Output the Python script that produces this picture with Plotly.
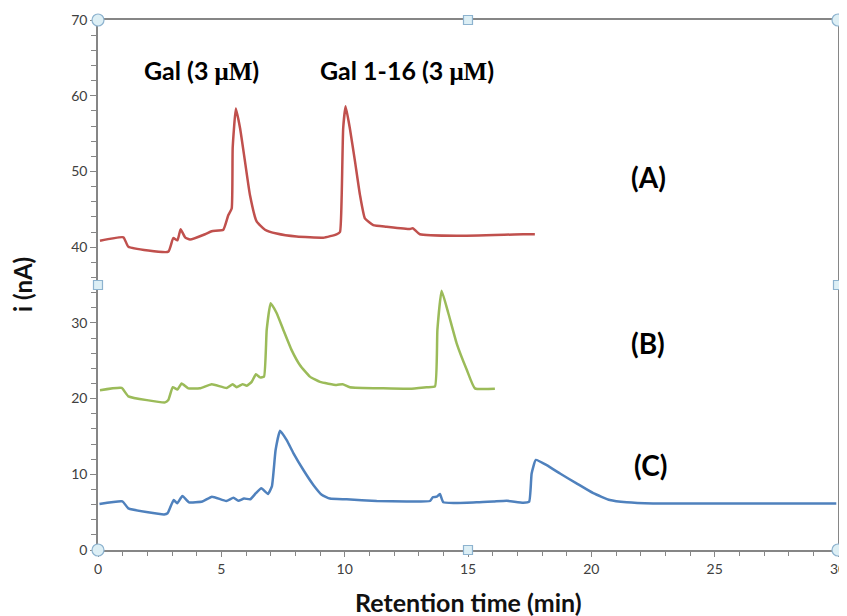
import plotly.graph_objects as go

# Trace A (red)
time_A = [0.08, 1.03, 1.23, 2.85, 3.05, 3.22, 3.35, 3.53, 3.73, 4.34, 4.61, 5.08, 5.28, 5.42, 5.46, 5.59,
          5.76, 5.96, 6.16, 6.43, 6.77, 7.24, 8.05, 9.13, 9.67, 9.81, 9.88, 9.94, 10.04, 10.21, 10.42,
          10.62, 10.82, 11.16, 11.7, 12.65, 12.76, 13.05, 14.54, 17.24, 17.71]
current_A = [40.85, 41.3, 40.06, 39.4, 41.2, 40.9, 42.35, 41.3, 41.0, 41.7, 42.1, 42.3, 44.2, 45.1, 53.1, 58.3,
             55.7, 51.3, 46.9, 43.4, 42.3, 41.8, 41.4, 41.25, 41.7, 42.0, 46.9, 55.7, 58.6, 55.7, 51.3,
             46.9, 43.8, 42.9, 42.7, 42.4, 42.5, 41.7, 41.5, 41.7, 41.7]

# Trace B (green)
time_B = [0.08, 0.96, 1.23, 2.72, 2.85, 3.03, 3.22, 3.39, 3.66, 4.13, 4.61, 5.22, 5.46, 5.62, 5.86, 6.03,
          6.23, 6.4, 6.57, 6.73, 6.84, 7.0, 7.24, 7.51, 7.85, 8.19, 8.59, 9.0, 9.67, 9.92, 10.21, 11.56,
          12.65, 13.32, 13.66, 13.76, 13.93, 14.2, 14.54, 14.95, 15.28, 16.09]
current_B = [21.1, 21.4, 20.3, 19.5, 19.8, 21.5, 21.2, 22.0, 21.35, 21.35, 21.9, 21.4, 21.9, 21.5, 21.9, 21.7,
             22.2, 23.2, 22.8, 22.9, 29.1, 32.6, 31.3, 29.1, 26.4, 24.4, 22.9, 22.2, 21.8, 21.9, 21.5, 21.35,
             21.3, 21.5, 21.6, 29.1, 34.25, 31.3, 27.3, 23.8, 21.35, 21.3]

# Trace C (blue)
time_C = [0.06, 0.99, 1.23, 2.68, 2.82, 3.07, 3.21, 3.42, 3.69, 4.23, 4.62, 5.2, 5.49, 5.69, 5.92, 6.17,
          6.4, 6.62, 6.89, 7.05, 7.2, 7.38, 7.65, 7.92, 8.32, 8.73, 9.07, 9.4, 10.08, 11.3, 12.51, 13.46,
          13.57, 13.73, 13.86, 14.0, 15.35, 16.03, 16.57, 17.24, 17.48, 17.58, 17.75, 18.19, 18.73, 19.4,
          20.08, 20.75, 21.43, 22.5, 24.9, 26.8, 29.93]
current_C = [6.08, 6.43, 5.5, 4.7, 4.85, 6.6, 6.17, 7.13, 6.3, 6.4, 7.04, 6.47, 6.9, 6.5, 6.8, 6.7,
             7.5, 8.15, 7.4, 8.4, 13.2, 15.75, 14.5, 12.8, 10.6, 8.6, 7.3, 6.8, 6.7, 6.47, 6.4, 6.47,
             6.96, 7.04, 7.4, 6.3, 6.3, 6.4, 6.5, 6.25, 6.4, 10.1, 11.9, 11.2, 10.1, 8.8,
             7.5, 6.6, 6.3, 6.15, 6.15, 6.15, 6.15]

peak_labels = ["Gal (3 <span style='font-family:Liberation Serif'>μM</span>)",
               "Gal 1-16 (3 <span style='font-family:Liberation Serif'>μM</span>)"]
peak_label_x = [4.18, 12.53]
peak_label_y = [63.4, 63.4]
trace_labels = ["(A)", "(B)", "(C)"]
trace_label_x = [22.3, 22.3, 22.4]
trace_label_y = [49.3, 27.3, 11.2]
x_ticks = [0, 5, 10, 15, 20, 25, 30]
y_ticks = [0, 10, 20, 30, 40, 50, 60, 70]

fig = go.Figure()
for tx, cy, col in [(time_A, current_A, "#C0504D"), (time_B, current_B, "#9BBB59"), (time_C, current_C, "#4F81BD")]:
    fig.add_trace(go.Scatter(x=tx, y=cy, mode="lines",
                             line=dict(color=col, width=2.5, shape="spline", smoothing=0.4),
                             showlegend=False, hoverinfo="skip"))

for t, x, y in zip(peak_labels, peak_label_x, peak_label_y):
    fig.add_annotation(x=x, y=y, text="<b>" + t + "</b>", showarrow=False,
                       font=dict(family="Lato", size=25, color="black"))
for t, x, y in zip(trace_labels, trace_label_x, trace_label_y):
    fig.add_annotation(x=x, y=y, text="<b>" + t + "</b>", showarrow=False,
                       font=dict(family="Lato", size=28, color="black"))

# Axis titles
fig.add_annotation(xref="paper", yref="paper", x=0.5, y=0, yshift=-52, yanchor="middle",
                   text="<b>Retention time (min)</b>", showarrow=False,
                   font=dict(family="Lato", size=25, color="#111"))
fig.add_annotation(xref="paper", yref="paper", x=0, y=0.5, xshift=-76, xanchor="center",
                   text="<b>i (nA)</b>", textangle=-90, showarrow=False,
                   font=dict(family="Lato", size=24, color="#111"))

axis_common = dict(showline=True, linecolor="#868686", linewidth=1.5, mirror=True,
                   showgrid=False, zeroline=False, ticks="outside", tickcolor="#868686",
                   automargin=False,
                   tickfont=dict(family="Lato", size=14, color="#404040"))
fig.update_xaxes(range=[0, 30], tickvals=x_ticks, ticklen=5,
                 minor=dict(dtick=1, ticks="outside", ticklen=4, tickcolor="#868686"),
                 **axis_common)
fig.update_yaxes(range=[0, 70], tickvals=y_ticks, ticklen=6,
                 minor=dict(dtick=2, ticks="outside", ticklen=5, tickcolor="#868686"),
                 **axis_common)

# Selection handles (decoration around the plot frame)
handles = [(0, 0, "circle"), (1, 0, "circle"), (0, 1, "circle"), (1, 1, "circle"),
           (0.5, 0, "rect"), (0.5, 1, "rect"), (0, 0.5, "rect"), (1, 0.5, "rect")]
for hx, hy, kind in handles:
    r = 6 if kind == "circle" else 4.5
    fig.add_shape(type=kind, xref="paper", yref="paper", xsizemode="pixel", ysizemode="pixel",
                  xanchor=hx, yanchor=hy, x0=-r, x1=r, y0=-r, y1=r,
                  line=dict(color="#8DB3CF", width=1.2), fillcolor="#DDEFF5", layer="above")

# The page body adds an 8 px offset, so the figure is 8 px smaller and margins adjusted.
fig.update_layout(width=839, height=608, margin=dict(l=90, r=9, t=12, b=66),
                  plot_bgcolor="white", paper_bgcolor="white")
fig.write_html("out.html")
